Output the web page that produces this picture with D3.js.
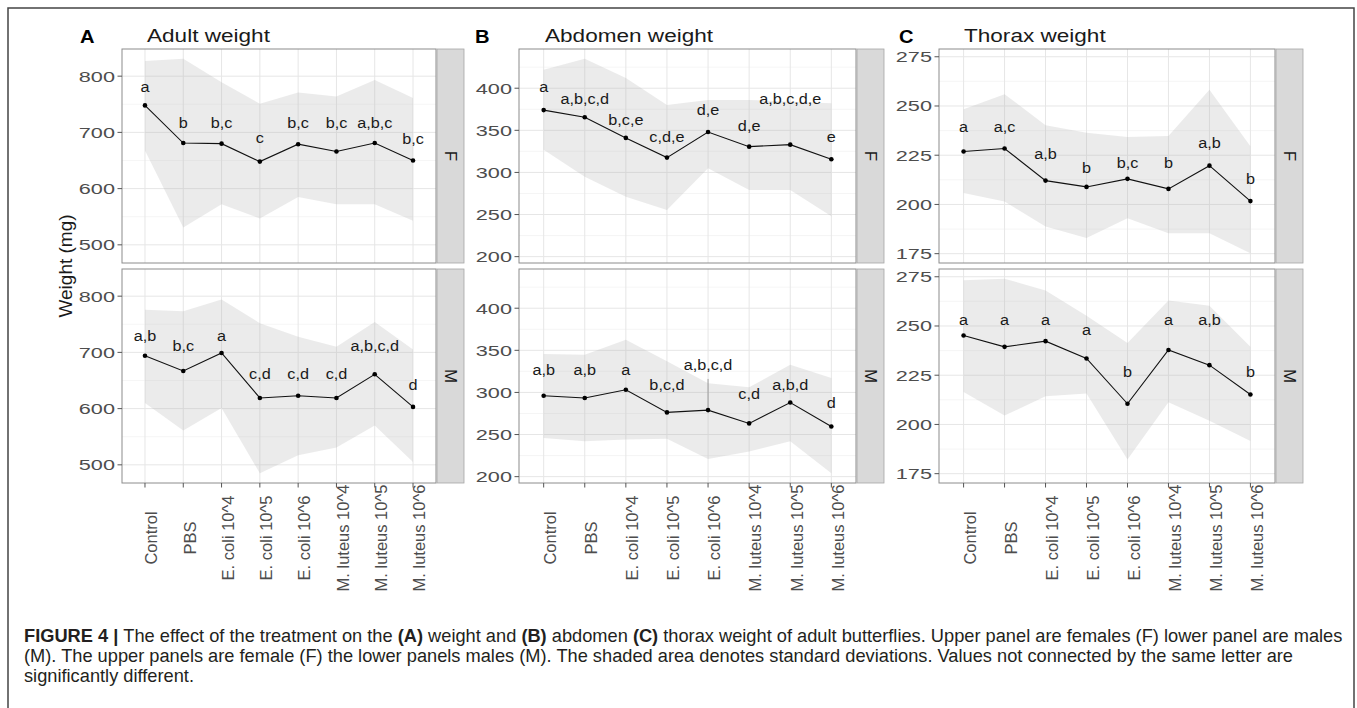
<!DOCTYPE html>
<html>
<head>
<meta charset="utf-8">
<script src="https://cdn.jsdelivr.net/npm/d3@7"></script>
<style>
  html, body { margin: 0; padding: 0; background: #fff; }
  svg { display: block; }
  text { font-family: "Liberation Sans", Arial, Helvetica, sans-serif; }
</style>
</head>
<body>
<svg id="fig" width="1357" height="708"></svg>
<script>
// Treatments along the x axis
const categories = ["Control", "PBS", "E. coli 10^4", "E. coli 10^5", "E. coli 10^6",
                    "M. luteus 10^4", "M. luteus 10^5", "M. luteus 10^6"];

// (A) Adult weight, mg
const adultF     = [748, 681, 680, 648, 679, 666, 681, 650];
const adultFLo   = [668, 531, 572, 547, 585, 572, 572, 543];
const adultFHi   = [827, 831, 789, 751, 771, 764, 793, 761];
const adultFLet  = ["a", "b", "b,c", "c", "b,c", "b,c", "a,b,c", "b,c"];
const adultFLabY = [780, 716, 716, 689, 716, 716, 716, 688];
const adultM     = [694, 667, 699, 619, 623, 619, 661, 603];
const adultMLo   = [610, 561, 601, 485, 517, 531, 570, 505];
const adultMHi   = [776, 773, 794, 752, 728, 710, 754, 705];
const adultMLet  = ["a,b", "b,c", "a", "c,d", "c,d", "c,d", "a,b,c,d", "d"];
const adultMLabY = [729, 711, 729, 661, 661, 661, 711, 641];
const adultTicks = [500, 600, 700, 800];

// (B) Abdomen weight, mg
const abdF     = [374, 365.5, 341, 317.6, 348, 330.6, 333, 315.7];
const abdFLo   = [327, 295, 271, 255.5, 305, 279, 279, 248];
const abdFHi   = [422, 435, 412, 380, 386, 386, 384, 382];
const abdFLet  = ["a", "a,b,c,d", "b,c,e", "c,d,e", "d,e", "d,e", "a,b,c,d,e", "e"];
const abdFLabY = [401, 387, 362, 341, 374, 354, 386, 341];
const abdM     = [296, 293.3, 303.2, 276.3, 279, 263.2, 288, 259.6];
const abdMLo   = [246, 242, 244, 245, 221, 230, 242, 204];
const abdMHi   = [345.6, 344.8, 362.6, 337, 311, 306, 333, 317];
const abdMLet  = ["a,b", "a,b", "a", "b,c,d", "a,b,c,d", "c,d", "a,b,d", "d"];
const abdMLabY = [326, 326, 326, 308, 332, 297, 308, 287];
const abdTicks = [200, 250, 300, 350, 400];
// faint leader under the "a,b,c,d" label (E. coli 10^6, males)
const abdMLeader = { cat: "E. coli 10^6", from: 279, to: 316 };

// (C) Thorax weight, mg
const thxF     = [226.9, 228.4, 212.1, 208.9, 213, 207.9, 219.7, 201.7];
const thxFLo   = [205.8, 201.5, 188.8, 182.9, 193, 185.4, 185.4, 175.2];
const thxFHi   = [248.3, 256, 240.2, 236.4, 234.2, 234.7, 258.2, 229.6];
const thxFLet  = ["a", "a,c", "a,b", "b", "b,c", "b", "a,b", "b"];
const thxFLabY = [239.3, 239.3, 225.2, 218, 221, 221, 231, 212.6];
const thxM     = [245.2, 239.4, 242.3, 233.5, 210.5, 237.8, 230.1, 215.2];
const thxMLo   = [216.5, 204.5, 214.3, 215.7, 182.2, 211.3, 201.9, 191.6];
const thxMHi   = [273.2, 274, 268, 255.2, 241.4, 262.9, 260.3, 239.4];
const thxMLet  = ["a", "a", "a", "a", "b", "a", "a,b", "b"];
const thxMLabY = [252.6, 252.6, 252.6, 247.8, 226.3, 252.6, 252.6, 226.3];
const thxTicks = [175, 200, 225, 250, 275];

const sexes = ["F", "M"];
const yTitle = "Weight (mg)";

// ---------------------------------------------------------------
const svg = d3.select("#fig");
svg.append("rect").attr("width", 1357).attr("height", 708).attr("fill", "#fff");

const rows = { F: [49, 263], M: [269, 483] };
const INK = "#1a1a1a", AXIS = "#4d4d4d";

function series(mean, lo, hi, letters, labY) {
  return categories.map((c, i) => ({ cat: c, mean: mean[i], lo: lo[i], hi: hi[i], letter: letters[i], labY: labY[i] }));
}

const charts = [
  { letter: "A", title: "Adult weight", left: 122, right: 436, letterX: 80, titleX: 147, ticks: adultTicks,
    F: series(adultF, adultFLo, adultFHi, adultFLet, adultFLabY),
    M: series(adultM, adultMLo, adultMHi, adultMLet, adultMLabY) },
  { letter: "B", title: "Abdomen weight", left: 519, right: 856, letterX: 475, titleX: 545, ticks: abdTicks,
    F: series(abdF, abdFLo, abdFHi, abdFLet, abdFLabY),
    M: series(abdM, abdMLo, abdMHi, abdMLet, abdMLabY), leader: abdMLeader },
  { letter: "C", title: "Thorax weight", left: 939, right: 1275, letterX: 899, titleX: 964, ticks: thxTicks,
    F: series(thxF, thxFLo, thxFHi, thxFLet, thxFLabY),
    M: series(thxM, thxMLo, thxMHi, thxMLet, thxMLabY) }
];

// horizontally widened text helper
function wideText(g, x, y, str, sx) {
  return g.append("text").attr("transform", `translate(${x},${y}) scale(${sx},1)`).text(str);
}

charts.forEach(ch => {
  const g = svg.append("g");
  const x = d3.scalePoint().domain(categories).range([ch.left, ch.right]).padding(0.6);

  // shared y scale for both sexes, 5% expansion like ggplot
  const all = [...ch.F, ...ch.M];
  const lo = d3.min(all, d => d.lo), hi = d3.max(all, d => d.hi);
  const pad = (hi - lo) * 0.05;
  const yDomain = [lo - pad, hi + pad];

  const step = ch.ticks[1] - ch.ticks[0];
  const minor = d3.range(ch.ticks[0] - step / 2, ch.ticks[ch.ticks.length - 1] + step, step)
    .filter(v => v > yDomain[0] && v < yDomain[1]);

  // panel letter and title
  wideText(g, ch.letterX, 43, ch.letter, 1.15)
    .attr("font-size", 17.5).attr("font-weight", "bold").attr("fill", "#000");
  wideText(g, ch.titleX, 42, ch.title, 1.22)
    .attr("font-size", 18.5).attr("fill", INK);

  sexes.forEach(sex => {
    const [top, bot] = rows[sex];
    const y = d3.scaleLinear().domain(yDomain).range([bot, top]);
    const data = ch[sex];
    const p = g.append("g");

    // panel background + grid
    p.append("rect").attr("x", ch.left).attr("y", top)
      .attr("width", ch.right - ch.left).attr("height", bot - top).attr("fill", "#fff");
    p.selectAll(".minor").data(minor).join("line")
      .attr("x1", ch.left).attr("x2", ch.right)
      .attr("y1", d => y(d)).attr("y2", d => y(d))
      .attr("stroke", "#f1f1f1").attr("stroke-width", 0.7);
    p.selectAll(".major").data(ch.ticks).join("line")
      .attr("x1", ch.left).attr("x2", ch.right)
      .attr("y1", d => y(d)).attr("y2", d => y(d))
      .attr("stroke", "#e6e6e6").attr("stroke-width", 1);
    p.selectAll(".vgrid").data(categories).join("line")
      .attr("x1", d => x(d)).attr("x2", d => x(d))
      .attr("y1", top).attr("y2", bot)
      .attr("stroke", "#e6e6e6").attr("stroke-width", 1);

    // standard-deviation ribbon
    const area = d3.area().x(d => x(d.cat)).y0(d => y(d.lo)).y1(d => y(d.hi));
    p.append("path").datum(data).attr("d", area)
      .attr("fill", "#b3b3b3").attr("fill-opacity", 0.26);

    if (ch.leader && sex === "M") {
      p.append("line")
        .attr("x1", x(ch.leader.cat)).attr("x2", x(ch.leader.cat))
        .attr("y1", y(ch.leader.from)).attr("y2", y(ch.leader.to))
        .attr("stroke", "#8a8a8a").attr("stroke-width", 0.8);
    }

    // mean line and points
    const line = d3.line().x(d => x(d.cat)).y(d => y(d.mean));
    p.append("path").datum(data).attr("d", line)
      .attr("fill", "none").attr("stroke", "#111").attr("stroke-width", 1.1);
    p.selectAll(".pt").data(data).join("circle")
      .attr("cx", d => x(d.cat)).attr("cy", d => y(d.mean)).attr("r", 2.3).attr("fill", "#000");

    // significance letters
    data.forEach(d => {
      wideText(p, x(d.cat), y(d.labY) + 4.5, d.letter, 1.12)
        .attr("font-size", 14.5).attr("text-anchor", "middle").attr("fill", INK);
    });

    // panel border
    p.append("rect").attr("x", ch.left).attr("y", top)
      .attr("width", ch.right - ch.left).attr("height", bot - top)
      .attr("fill", "none").attr("stroke", "#8c8c8c").attr("stroke-width", 1);

    // facet strip
    p.append("rect").attr("x", ch.right + 1).attr("y", top).attr("width", 27).attr("height", bot - top)
      .attr("fill", "#d9d9d9").attr("stroke", "#a6a6a6").attr("stroke-width", 0.8);
    p.append("text")
      .attr("transform", `translate(${ch.right + 14.5},${(top + bot) / 2}) rotate(90)`)
      .attr("dy", "0.35em").attr("text-anchor", "middle")
      .attr("font-size", 17).attr("fill", INK).text(sex);

    // y axis ticks and labels
    ch.ticks.forEach(t => {
      p.append("line").attr("x1", ch.left - 4.5).attr("x2", ch.left)
        .attr("y1", y(t)).attr("y2", y(t)).attr("stroke", "#555").attr("stroke-width", 1);
      wideText(p, ch.left - 7, y(t) + 5.5, String(t), 1.4)
        .attr("font-size", 15.5).attr("text-anchor", "end").attr("fill", AXIS);
    });

    // x axis on the lower panel only
    if (sex === "M") {
      categories.forEach(c => {
        p.append("line").attr("x1", x(c)).attr("x2", x(c))
          .attr("y1", bot).attr("y2", bot + 4.5).attr("stroke", "#555").attr("stroke-width", 1);
        p.append("text")
          .attr("transform", `translate(${x(c) + 6.5},538) rotate(-90)`)
          .attr("dy", "0.35em").attr("text-anchor", "middle")
          .attr("font-size", 16.5).attr("fill", AXIS).text(c);
      });
    }
  });
});

// shared y-axis title
svg.append("text")
  .attr("transform", "translate(65,266) rotate(-90)")
  .attr("dy", "0.35em").attr("text-anchor", "middle")
  .attr("font-size", 19).attr("fill", INK).text(yTitle);

// frame around the figure
svg.append("path")
  .attr("d", "M8,712 L8,8 L1354,8 L1354,712")
  .attr("fill", "none").attr("stroke", "#444").attr("stroke-width", 1.5);

// caption
const capLines = [
  [["FIGURE 4 | ", true], ["The effect of the treatment on the ", false], ["(A)", true], [" weight and ", false],
   ["(B)", true], [" abdomen ", false], ["(C)", true],
   [" thorax weight of adult butterflies. Upper panel are females (F) lower panel are males", false]],
  [["(M). The upper panels are female (F) the lower panels males (M). The shaded area denotes standard deviations. Values not connected by the same letter are", false]],
  [["significantly different.", false]]
];
const capBase = [641.5, 661.5, 682];
const capNodes = capLines.map((parts, i) => {
  const t = svg.append("text").attr("x", 24).attr("y", capBase[i]).attr("font-size", 16).attr("fill", "#231f20");
  parts.forEach(([s, b]) => t.append("tspan").attr("font-weight", b ? "bold" : "normal").text(s));
  return t;
});
// size the caption so its first line runs to the right margin
const w0 = capNodes[0].node().getComputedTextLength();
const fs = 16 * 1319 / w0;
capNodes.forEach(t => t.attr("font-size", fs));
</script>
</body>
</html>
